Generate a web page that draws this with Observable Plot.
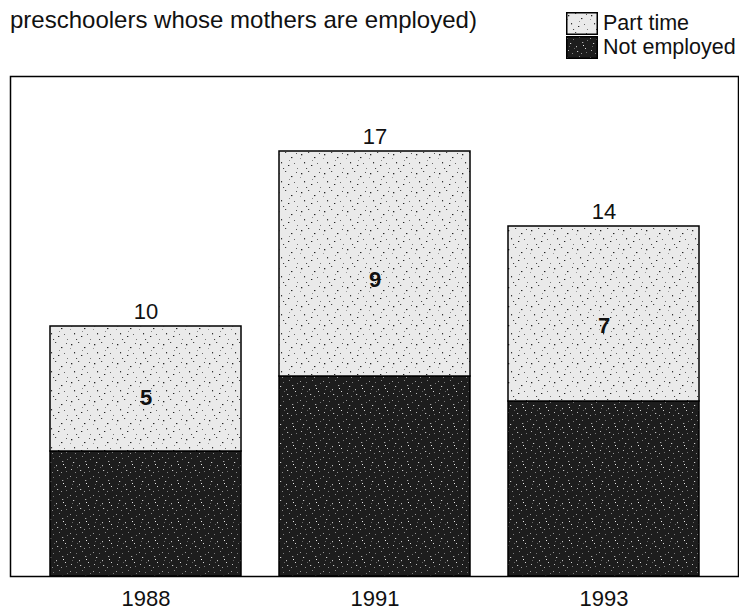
<!DOCTYPE html>
<html><head><meta charset="utf-8">
<script src="https://cdn.jsdelivr.net/npm/d3@7"></script>
<script src="https://cdn.jsdelivr.net/npm/@observablehq/plot@0.6"></script>
<style>
body{margin:0;background:#fff;font-family:"Liberation Sans",Arial,Helvetica,sans-serif;color:#111;}
#wrap{position:relative;width:739px;height:615px;overflow:hidden;}
#title{position:absolute;left:10px;top:6px;font-size:24px;white-space:nowrap;}
#legend{position:absolute;left:566px;top:11px;font-size:21.5px;white-space:nowrap;}
.item{display:flex;align-items:center;height:24px;}
.item svg{margin-right:5px;flex:none;}
#chart{position:absolute;left:0;top:75px;}
#defs{position:absolute;width:0;height:0;}
</style></head>
<body>
<svg id="defs" width="0" height="0">
  <defs>
    <pattern id="pt" patternUnits="userSpaceOnUse" width="23" height="19">
      <rect width="23" height="19" fill="#eaeaea"/>
      <rect x="2" y="3" width="1.3" height="1.3" fill="#222"/>
      <rect x="9" y="1" width="1.2" height="1" fill="#444"/>
      <rect x="15" y="6" width="1.4" height="1.1" fill="#222"/>
      <rect x="20" y="2" width="1" height="1" fill="#555"/>
      <rect x="5" y="11" width="1.1" height="1.4" fill="#333"/>
      <rect x="12" y="14" width="1.3" height="1" fill="#222"/>
      <rect x="18" y="12" width="1" height="1" fill="#666"/>
      <rect x="7" y="17" width="1.1" height="1" fill="#444"/>
      <rect x="21" y="17" width="1" height="1" fill="#777"/>
      <rect x="13" y="9" width="1" height="1" fill="#888"/>
      <rect x="1" y="7" width="1" height="1" fill="#999"/>
    </pattern>
    <pattern id="ne" patternUnits="userSpaceOnUse" width="23" height="19">
      <rect width="23" height="19" fill="#1d1d1d"/>
      <rect x="1" y="2" width="1" height="1" fill="#9a9a9a"/>
      <rect x="4" y="7" width="1.2" height="1" fill="#cfcfcf"/>
      <rect x="7" y="3" width="1" height="1" fill="#777"/>
      <rect x="10" y="10" width="1" height="1.2" fill="#bbb"/>
      <rect x="13" y="1" width="1" height="1" fill="#888"/>
      <rect x="16" y="6" width="1.3" height="1" fill="#aaa"/>
      <rect x="19" y="12" width="1" height="1" fill="#d8d8d8"/>
      <rect x="21" y="4" width="1" height="1" fill="#777"/>
      <rect x="2" y="14" width="1" height="1" fill="#bbb"/>
      <rect x="6" y="17" width="1" height="1" fill="#888"/>
      <rect x="11" y="15" width="1.2" height="1" fill="#c4c4c4"/>
      <rect x="15" y="17" width="1" height="1" fill="#999"/>
      <rect x="8" y="12" width="1" height="1" fill="#666"/>
      <rect x="17" y="9" width="1" height="1" fill="#eee"/>
      <rect x="20" y="16" width="1" height="1" fill="#777"/>
      <rect x="3" y="10" width="1" height="1" fill="#666"/>
    </pattern>
  </defs>
</svg>
<div id="wrap">
  <div id="title">preschoolers whose mothers are employed)</div>
  <div id="legend">
    <div class="item"><svg width="32" height="23"><rect x="0.75" y="0.75" width="30.5" height="21.5" fill="url(#pt)" stroke="#000" stroke-width="1.5"/></svg>Part time</div>
    <div class="item"><svg width="32" height="23"><rect x="0.75" y="0.75" width="30.5" height="21.5" fill="url(#ne)" stroke="#000" stroke-width="1.5"/></svg>Not employed</div>
  </div>
  <div id="chart"></div>
</div>
<script>
const years = ["1988", "1991", "1993"];
const partTime = [5, 9, 7];
const notEmployed = [5, 8, 7];
const totals = [10, 17, 14];
const seriesNames = ["Not employed", "Part time"];

const rows = [];
years.forEach((y, i) => {
  rows.push({year: y, series: "Not employed", value: notEmployed[i]});
  rows.push({year: y, series: "Part time", value: partTime[i]});
});
const totalRows = years.map((y, i) => ({year: y, total: totals[i]}));
const midRows = years.map((y, i) => ({year: y, pos: notEmployed[i] + partTime[i] * 0.43, label: String(partTime[i])}));

const chart = Plot.plot({
  width: 739,
  height: 540,
  marginTop: 1,
  marginLeft: 10,
  marginRight: 1,
  marginBottom: 39,
  style: {fontFamily: "'Liberation Sans', Arial, Helvetica, sans-serif", fontSize: "22px", background: "transparent", color: "#000"},
  x: {domain: years, padding: 0.167, label: null, axis: null},
  y: {domain: [0, 20], axis: null},
  color: {domain: seriesNames, range: ["url(#ne)", "url(#pt)"]},
  marks: [
    Plot.barY(rows, {x: "year", y: "value", fill: "series", stroke: "#000", strokeWidth: 1.5}),
    Plot.frame({stroke: "#000", strokeWidth: 1.5}),
    Plot.text(totalRows, {x: "year", y: "total", text: d => String(d.total), lineAnchor: "bottom", dy: -8, fontSize: 22, fill: "#111"}),
    Plot.text(midRows, {x: "year", y: "pos", text: "label", fontSize: 22, fontWeight: "bold", fill: "#111"}),
    Plot.axisX({tickSize: 0, tickPadding: 14, fontSize: 22, fill: "#111", label: null})
  ]
});
document.getElementById("chart").appendChild(chart);
</script>
</body></html>
